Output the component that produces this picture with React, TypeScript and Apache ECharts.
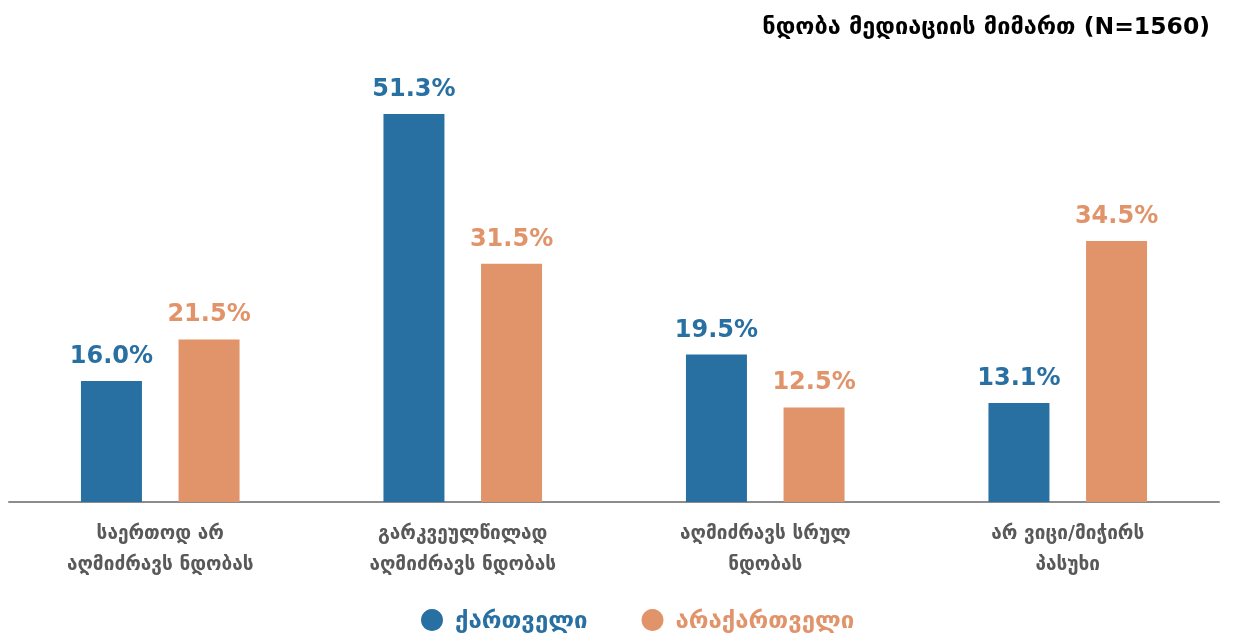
import React, { useEffect, useRef } from "react";
import * as echarts from "echarts";

const categories = [
  "საერთოდ არ\nაღმიძრავს ნდობას",
  "გარკვეულწილად\nაღმიძრავს ნდობას",
  "აღმიძრავს სრულ\nნდობას",
  "არ ვიცი/მიჭირს\nპასუხი",
];
const seriesNames = ["ქართველი", "არაქართველი"];
const georgianValues = [16.0, 51.3, 19.5, 13.1];
const nonGeorgianValues = [21.5, 31.5, 12.5, 34.5];
const titleText = "ნდობა მედიაციის მიმართ (N=1560)";

const BLUE = "#2870a2";
const ORANGE = "#e1936a";
const FONT = "DejaVu Sans";

export default function App() {
  const ref = useRef<HTMLDivElement>(null);
  useEffect(() => {
    const chart = echarts.init(ref.current!, null, { renderer: "svg" });
    const labelCfg = (color: string) => ({
      show: true,
      position: "top" as const,
      distance: 14,
      formatter: (p: any) => p.value.toFixed(1) + "%",
      color,
      fontFamily: FONT,
      fontWeight: "bold" as const,
      fontSize: 24,
    });
    chart.setOption({
      animation: false,
      title: {
        text: titleText,
        right: 26,
        top: 9,
        textStyle: { fontFamily: FONT, fontWeight: "bold", fontSize: 23.5, color: "#000" },
      },
      legend: {
        top: 606,
        left: 421,
        padding: 0,
        icon: "circle",
        itemWidth: 36,
        itemHeight: 22,
        itemGap: 54,
        data: [
          { name: seriesNames[0], textStyle: { color: BLUE } },
          { name: seriesNames[1], textStyle: { color: ORANGE } },
        ],
        textStyle: { fontFamily: FONT, fontWeight: "bold", fontSize: 24, lineHeight: 28 },
      },
      grid: { left: 9, right: 22, top: 86, bottom: 134, containLabel: false },
      xAxis: {
        type: "category",
        data: categories,
        axisLine: { lineStyle: { color: "#8c8c8c", width: 2 } },
        axisTick: { show: false },
        axisLabel: {
          color: "#595959",
          fontFamily: FONT,
          fontWeight: "bold",
          fontSize: 19,
          lineHeight: 31,
          margin: 14,
        },
      },
      yAxis: {
        type: "value",
        min: 0,
        max: 55,
        show: false,
        splitLine: { show: false },
      },
      series: [
        {
          name: seriesNames[0],
          type: "bar",
          data: georgianValues,
          barWidth: 61,
          barGap: "60%",
          itemStyle: { color: BLUE },
          label: labelCfg(BLUE),
        },
        {
          name: seriesNames[1],
          type: "bar",
          data: nonGeorgianValues,
          barWidth: 61,
          itemStyle: { color: ORANGE },
          label: labelCfg(ORANGE),
        },
      ],
    });
    return () => chart.dispose();
  }, []);
  return (
    <div
      ref={ref}
      style={{ position: "fixed", left: 0, top: 0, width: 1241, height: 636 }}
    />
  );
}
